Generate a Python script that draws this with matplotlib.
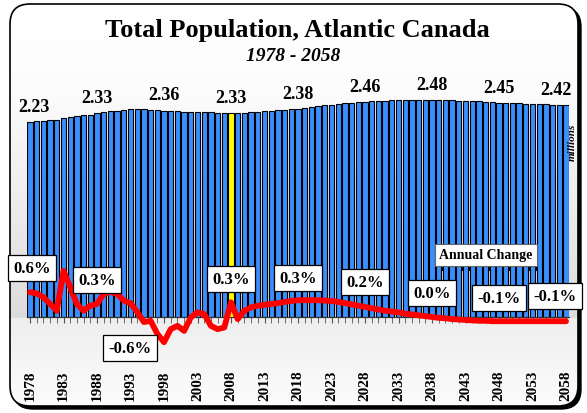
import numpy as np
import matplotlib.pyplot as plt
from matplotlib.patches import FancyBboxPatch, Rectangle

years = np.arange(1978, 2059)

# population, millions
population = [
    2.23, 2.24, 2.245, 2.25, 2.255, 2.28, 2.29, 2.30, 2.305, 2.31,
    2.33, 2.34, 2.35, 2.36, 2.365, 2.372, 2.374, 2.374, 2.37, 2.366,
    2.36, 2.355, 2.35, 2.345, 2.345, 2.345, 2.342, 2.338, 2.334, 2.33,
    2.33, 2.33, 2.335, 2.34, 2.345, 2.35, 2.358, 2.365, 2.37, 2.375,
    2.38, 2.39, 2.40, 2.41, 2.42, 2.428, 2.436, 2.443, 2.45, 2.455,
    2.46, 2.465, 2.469, 2.472, 2.475, 2.477, 2.478, 2.479, 2.48, 2.48,
    2.48, 2.479, 2.477, 2.475, 2.473, 2.47, 2.467, 2.463, 2.459, 2.455,
    2.45, 2.447, 2.444, 2.441, 2.438, 2.435, 2.432, 2.429, 2.426, 2.423,
    2.42,
]

# annual change, percent
change = [
    0.59, 0.56, 0.47, 0.31, 0.15, 1.10, 0.71, 0.31, 0.15, 0.27,
    0.31, 0.55, 0.60, 0.55, 0.39, 0.33, 0.12, -0.12, -0.09, -0.40,
    -0.60, -0.29, -0.21, -0.33, -0.01, 0.11, 0.07, -0.21, -0.29, -0.25,
    0.35, -0.05, 0.15, 0.23, 0.27, 0.29, 0.31, 0.33, 0.36, 0.38,
    0.40, 0.40, 0.40, 0.40, 0.39, 0.38, 0.36, 0.33, 0.30, 0.27,
    0.24, 0.21, 0.18, 0.15, 0.13, 0.11, 0.08, 0.06, 0.04, 0.02,
    0.00, -0.02, -0.03, -0.05, -0.06, -0.07, -0.08, -0.09, -0.09, -0.10,
    -0.10, -0.10, -0.10, -0.10, -0.10, -0.10, -0.10, -0.10, -0.10, -0.10,
    -0.10,
]

pop_label_years = [1978, 1988, 1998, 2008, 2018, 2028, 2038, 2048, 2058]
chg_label_years = [1978, 1988, 1998, 2008, 2018, 2028, 2038, 2048, 2058]
chg_label_text = ['0.6%', '0.3%', '-0.6%', '0.3%', '0.3%', '0.2%', '0.0%', '-0.1%', '-0.1%']
highlight_year = 2008

W, H = 587, 414
plt.rcParams['font.family'] = ['Liberation Serif', 'DejaVu Serif']

fig = plt.figure(figsize=(W / 100, H / 100), dpi=100)
fig.patch.set_facecolor('white')

# background with rounded frame
bg = fig.add_axes([0, 0, 1, 1])
bg.set_xlim(0, W)
bg.set_ylim(H, 0)
bg.axis('off')
rows = np.arange(H)
shade = np.interp(rows, [0, 90, 318, 319, 412], [1.0, 0.985, 0.86, 0.93, 0.99])
grad = np.repeat(shade[:, None], 2, axis=1)
shadow = FancyBboxPatch((13, 8), 568, 402, boxstyle='round,pad=0,rounding_size=20',
                        fc='black', ec='black', lw=1)
bg.add_patch(shadow)
im = bg.imshow(grad, cmap='gray', vmin=0, vmax=1, extent=(0, W, H, 0), aspect='auto', zorder=2)
frame = FancyBboxPatch((10, 5), 568, 402, boxstyle='round,pad=0,rounding_size=20',
                       fc='none', ec='black', lw=1.2, zorder=3)
bg.add_patch(frame)
clip = FancyBboxPatch((10, 5), 568, 402, boxstyle='round,pad=0,rounding_size=20',
                      fc='none', ec='none', transform=bg.transData)
im.set_clip_path(clip)

# "Annual Change" box shadow
bg.add_patch(Rectangle((437, 250), 108, 22, fc='black', ec='none', zorder=4))

# main axes: x pixel 26.65..569.35, y pixel 80..360
top_px, bot_px = 80, 360
ax = fig.add_axes([26.65 / W, 1 - bot_px / H, 542.7 / W, (bot_px - top_px) / H])
ax.patch.set_alpha(0)
ppu = 87.5
ax.set_ylim(-(bot_px - 318) / ppu, (318 - top_px) / ppu)
ax.set_xlim(1977.5, 2058.5)

colors = ['#ffff00' if y == highlight_year else '#3a8fff' for y in years]
ax.bar(years, population, width=0.8, color=colors, edgecolor='black', linewidth=0.8, zorder=2)

for y in pop_label_years:
    i = y - 1978
    dx = 4 if y == 1978 else (-10 if y == 2058 else 0)
    ax.annotate(f'{population[i]:.2f}', (y, population[i]), xytext=(dx, 7),
                textcoords='offset pixels', ha='center', va='bottom',
                fontsize=13, fontweight='bold', zorder=5)

for s in ['top', 'right', 'left']:
    ax.spines[s].set_visible(False)
ax.spines['bottom'].set_position(('data', 0))
ax.spines['bottom'].set_color('#333333')
ax.set_yticks([])
ax.set_xticks(np.arange(1978, 2059, 5))
ax.set_xticks(years, minor=True)
ax.tick_params(axis='x', which='both', length=4, color='#555555', direction='out')
ax.tick_params(axis='x', which='major', pad=34)
for lab in ax.get_xticklabels():
    lab.set_rotation(90)
    lab.set_fontsize(11)
    lab.set_fontweight('bold')

ax2 = ax.twinx()
ax2.set_ylim(-(bot_px - 318) / 42, (318 - top_px) / 42)
ax2.axis('off')
ax2.plot(years, change, color='#ff0000', lw=4.2, solid_joinstyle='round',
         solid_capstyle='round', zorder=3)

offsets = {1978: (2, 24), 1988: (0, 24), 1998: (-34, -6), 2008: (0, 23), 2018: (0, 22),
           2028: (0, 25), 2038: (0, 24), 2048: (0, 23), 2058: (-11, 25)}
for y, t in zip(chg_label_years, chg_label_text):
    i = y - 1978
    ax2.annotate(t, (y, change[i]), xytext=offsets[y], textcoords='offset pixels',
                 ha='center', va='center', fontsize=12, fontweight='bold', zorder=6,
                 bbox=dict(boxstyle='square,pad=0.3', fc='white', ec='black', lw=0.9))

fig.text(486 / W, 1 - 256 / H, 'Annual Change', ha='center', va='center', fontsize=10,
         fontweight='bold', zorder=5,
         bbox=dict(boxstyle='square,pad=0.3', fc='white', ec='#666666', lw=0.8))

fig.text(572 / W, 1 - 142 / H, 'millions', rotation=90, ha='center', va='center',
         fontsize=8, fontweight='bold', style='italic')

fig.text(297 / W, 1 - 30 / H, 'Total Population, Atlantic Canada', ha='center', va='center',
         fontsize=19, fontweight='bold')
fig.text(293 / W, 1 - 57 / H, '1978 - 2058', ha='center', va='center',
         fontsize=14, fontweight='bold', style='italic')

fig.savefig('out.png', dpi=100)
